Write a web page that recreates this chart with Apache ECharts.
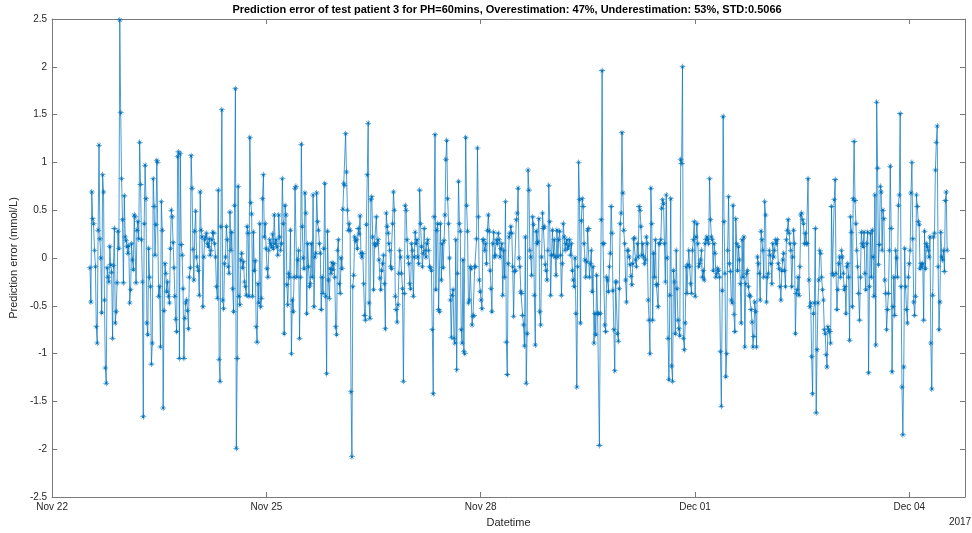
<!DOCTYPE html>
<html><head><meta charset="utf-8">
<script src="https://cdn.jsdelivr.net/npm/echarts@6/dist/echarts.min.js"></script>
<style>html,body{margin:0;padding:0;background:#fff}#c{width:972px;height:533px}</style>
</head><body><div id="c"></div>
<script>
// Prediction error values (mmol/L), in time order
const seg1=[-0.1,-0.46,0.69,0.41,0.36,0.08,-0.09,-0.72,-0.89,0.29,
1.18,0.2,0.0,-0.57,0.87,0.69,-0.44,-1.15,-1.31,-0.1,
-0.2,-0.25,0.12,-0.07,-0.15,-0.84,-0.08,0.31,-0.68,-0.56,
-0.26,0.28,0.1,2.49,1.52,0.83,0.4,-0.26,0.65,0.22,
0.18,0.12,0.05,0.13,-0.47,-0.33,0.15,-0.02,-0.12,0.45,
0.43,-0.26,0.29,0.38,0.2,1.21,0.77,0.19,-0.25,-1.66,
0.36,0.97,0.62,-0.68,-0.8,0.1,-0.2,-0.3,-1.11,-0.89,
0.83,0.54,0.03,0.35,1.02,1.0,-0.4,-0.3,-0.93,0.59,
0.29,-1.57,-0.55,-0.06,-0.16,-0.35,-0.25,-0.4,-0.47,0.1,
0.5,0.43,0.16,-0.1,-0.4,-0.64,-0.77,1.06,1.11,-1.05];
const seg2=[1.09,0.14,0.03,-0.32,-1.05,-0.63,-0.47,-0.44,-0.55,-0.74,
-0.2,-0.1,1.07,0.73,0.09,-0.23,0.28,0.49,0.01,-0.09,
-0.13,-0.39,0.69,0.29,0.22,-0.51,0.01,0.19,0.22,0.26,
0.15,0.12,0.2,0.03,0.08,0.19,0.27,0.26,0.15,0.01,
-0.3,-0.42,0.71,-1.06,-1.29,0.33,1.55,-0.44,-0.53,-0.06,
0.01,0.33,0.19,-0.09,-0.16,0.48,0.08,0.27,-0.32,-0.56,
0.55,1.77,-1.99,-1.05,0.75,-0.4,-0.49,-0.02,0.05,-0.1,
-0.04,-0.25,-0.3,-0.39,0.33,0.26,-0.4,1.26,0.58,0.46,
-0.4,0.27,-0.13,-0.03,-0.72,-0.88,-0.27,-0.47,0.36,-0.51,
-0.42,0.62,0.87,0.22,0.36,0.1,-0.11,-0.2,0.08,0.19,
0.15,0.12,0.25,0.1,0.45];
const seg3=[0.15,0.19,0.12,0.03,0.45,0.22,0.08,0.15,0.83,0.36,
-0.79,0.55,0.45,-0.28,-0.49,-0.16,-0.2,0.29,-1.0,-0.44,
-0.56,-0.2,0.73,0.75,-0.2,-0.02,0.08,-0.84,-0.2,1.19,
0.33,0.0,-0.11,0.68,0.47,-0.58,0.15,-0.09,-0.3,-0.27,
0.15,-0.2,0.66,-0.51,0.01,0.05,0.68,0.38,0.29,0.15,
0.05,-0.54,-0.2,-0.37,0.1,0.78,-0.4,-1.21,0.28,-0.23,
-0.42,-0.11,-0.16,-0.05,-0.12,-0.06,-0.2,-0.72,-0.8,0.08,
0.19,-0.27,-0.37,0.0,-0.11,0.51,0.78,0.76,1.3,0.9,
0.5,0.29,0.36,0.29,-1.4,-2.08,-0.3,-0.18,0.22,0.18,
0.19,0.1,0.31,0.25,0.44,0.05,0.01,0.05,-0.27,-0.6,
-0.65,0.35,0.87,1.41,-0.47];
const seg4=[-0.63,0.61,0.64,0.22,-0.33,0.15,0.13,0.43,0.15,0.19,
-0.02,-0.21,-0.33,-0.13,-0.06,0.03,-0.27,-0.74,0.47,0.33,
0.26,0.15,0.08,-0.09,-0.11,0.36,0.69,0.5,-0.4,-0.54,
-0.67,-0.49,-0.16,0.08,0.01,-0.16,-0.32,-1.29,-0.37,0.55,
0.5,0.19,0.01,-0.06,-0.27,-0.32,0.15,0.08,-0.4,0.01,
0.27,0.15,0.19,0.01,-0.06,0.71,0.36,0.12,-0.09,0.05,
0.31,0.08,0.01,0.15,0.19,0.08,-0.09,-0.1,-0.13,-0.75,
-1.42,0.43,1.29,-0.33,0.29,0.36,-0.54,-0.56,0.36,-0.23,
0.15,-0.1,0.18,0.45,1.03,1.23,0.62,0.36,0.0,-0.44,
-0.83,-0.39,-0.33,-0.84,-0.89,0.19,-1.17,-0.16,0.8,0.36,
0.28,-0.75,-0.89,-0.02];
const seg5=[-0.98,-1.0,1.26,0.55,0.28,-0.47,-0.44,-0.09,-0.11,-0.7,
-0.61,-0.6,-0.09,-0.09,0.2,1.15,0.43,-0.23,-0.35,-0.44,
-0.53,0.19,0.19,0.08,0.15,-0.06,0.29,0.45,0.28,-0.13,
-0.32,-0.56,0.15,0.27,0.01,0.03,0.19,0.15,0.26,0.19,
0.01,0.1,0.15,-0.39,0.08,-0.2,0.59,-0.88,-1.22,-0.06,
0.22,0.26,0.33,0.26,-0.09,-0.61,-0.14,-0.13,0.4,0.47,
0.73,0.0,-0.09,-0.35,-0.37,-0.6,-0.7,-0.92,0.22,-1.31,
-0.79,0.92,0.71,0.08,0.01,-0.18,0.43,0.35,-0.39,-0.91,
0.28,0.15,0.17,0.41,-0.56,-0.7,0.01,0.47,0.31,0.33,
-0.07,-0.13,-0.23,0.08,0.76,0.38,-0.39,0.03,0.29,0.03,
0.19,0.01,-0.18,0.29,0.01];
const seg6=[0.19,0.28,0.03,-0.39,-0.06,0.36,0.22,0.08,0.15,0.19,
0.1,0.13,0.19,0.03,0.15,-0.13,-0.23,-0.3,0.0,-0.58,
-1.35,-0.09,1.0,0.61,-0.68,0.39,0.62,0.54,0.15,-0.02,
-0.2,-0.04,0.29,0.31,-0.2,-0.06,0.08,-0.35,-0.09,-0.89,
-0.58,-0.8,-0.18,-0.58,-0.58,-1.96,-0.58,0.4,1.96,0.15,
0.15,-0.7,-0.77,-0.2,-0.23,-0.35,-0.09,0.05,0.54,0.26,
-0.34,-0.75,-1.18,-0.25,-0.25,-0.79,-0.87,-0.32,0.36,0.47,
1.31,0.68,0.29,0.15,-0.23,-0.46,0.08,0.08,0.01,-0.07,
-0.19,-0.28,-0.06,0.2,0.21,-0.02,-0.09,0.15,0.01,0.54,
0.5,0.33,0.03,0.15,0.01,-0.06,-0.02,0.22,0.15,-0.44,
-0.65,-1.0,0.73,0.36];
const seg7=[-0.65,0.05,-0.2,0.19,-0.28,-0.28,-0.51,0.15,0.15,0.19,
0.52,0.61,0.57,0.15,-0.25,0.66,0.0,-0.84,-1.27,-0.39,
0.62,-1.13,-1.29,-0.13,-0.25,-0.79,0.08,-0.32,-0.65,-0.74,
-0.81,1.03,0.99,2.0,-0.84,-0.96,-0.68,-0.09,-0.37,-0.07,
0.08,-0.09,-0.27,-0.37,0.08,0.19,0.38,-0.4,0.22,0.36,
0.15,-0.09,-0.06,-0.02,0.08,-0.2,-0.13,-0.23,0.15,0.19,
0.22,0.19,0.15,0.83,0.4,0.22,0.19,-0.13,0.15,0.05,
-0.2,-0.16,-0.11,-0.13,-0.2,-0.98,-1.55,-0.34,1.48,0.38,
-0.16,-1.24,-1.0,0.08,0.64,-0.06,-0.14,-0.44,-0.47,0.55,
-0.59,-0.77,0.41,0.15,-0.13,0.12,-0.02,-0.27,-0.68,0.19,
-0.2,0.22,-0.93,-0.27,-0.16];
const seg8=[-0.13,-0.3,-0.39,-0.4,-0.54,-0.67,-0.93,-0.82,-0.46,-0.56,
-0.93,0.01,-0.06,-0.16,-0.44,0.28,0.19,0.08,-0.2,0.59,
0.45,-0.46,-0.2,-0.16,0.08,0.03,-0.06,-0.27,0.15,0.01,
0.08,0.19,0.15,0.19,-0.06,-0.11,-0.3,-0.44,-0.13,-0.02,
0.05,-0.13,-0.3,0.19,0.29,0.4,0.26,0.15,0.08,-0.3,
0.01,0.29,0.15,-0.79,-0.37,-0.33,-0.2,-0.39,-0.09,0.45,
0.47,0.4,0.36,0.15,0.26,0.15,0.15,0.83,-0.23,-0.51,
-0.47,-1.03,-1.42,-0.58,-0.47,0.31,-1.62,-0.96,-0.47,-0.23,
0.08,0.05,-0.2,-0.33,-0.44,-0.75,-0.79,-1.01,-1.14,-0.72,
-0.75,-0.77,-0.89,0.54,-0.16,-0.18,0.61,0.82,-0.16,-0.54,
-0.33,-0.06,0.01,-0.2];
const seg9=[0.08,0.01,-0.16,-0.33,-0.3,-0.58,-0.09,-0.06,-0.2,
-0.86,0.43,0.27,-0.51,0.62,1.22,0.6,0.36,0.08,-0.09,
-0.37,-0.65,-0.2,0.27,0.15,0.12,0.27,-0.16,-0.33,0.15,
0.27,-1.2,-0.3,0.26,-0.2,0.29,0.01,-0.4,0.66,-0.91,
1.63,0.94,-0.07,0.14,0.75,0.69,0.08,0.5,0.41,-0.23,
-0.37,-0.75,-0.54,-0.37,0.08,0.96,0.31,-1.19,-0.51,-0.2,
-0.6,0.08,0.0,-0.2,0.55,0.66,1.51,-0.3,-1.35,-1.85,
-1.14,0.1,-0.3,-0.54,-0.68,-0.2,-0.06,0.08,0.68,1.0,
0.2,-0.46,-0.6,-0.4,0.66,0.54,0.38,0.35,-0.11,-0.06,
-0.09,-0.06,-0.65,0.28,-0.11,0.15,0.12,0.08,0.01,0.22,
-0.89,-1.37,-0.39,0.22,0.26,0.92,1.21,1.38,-0.09,-0.75,
-0.46,0.27,0.01,-0.02,0.08,-0.14,0.6,0.69,0.08];

// Time: days since Nov 22 2017 00:00; samples are evenly spaced
const firstSampleDay = 0.53;
const lastSampleDay = 12.53;
const xTickLabels = ['Nov 22','Nov 25','Nov 28','Dec 01','Dec 04'];
const xTickStepDays = 3;
const xMaxDay = 12.78;
const yearLabel = '2017';
const titleText = 'Prediction error of test patient 3 for PH=60mins, Overestimation: 47%, Underestimation: 53%, STD:0.5066';

const values = [].concat(seg1,seg2,seg3,seg4,seg5,seg6,seg7,seg8,seg9);
const step = (lastSampleDay-firstSampleDay)/(values.length-1);
const data = values.map((v,i)=>[firstSampleDay+i*step, v]);

const FONT = '"Liberation Sans", Arial, Helvetica, sans-serif';
const AX = '#7a7a7a';
const TXT = '#262626';
const star = 'path://M4.55,0L5.45,0L5.45,10L4.55,10Z M0,4.55L10,4.55L10,5.45L0,5.45Z M1.8,2.45L2.45,1.8L8.2,7.55L7.55,8.2Z M7.55,1.8L8.2,2.45L2.45,8.2L1.8,7.55Z';

function xFmt(v){ const k=v/xTickStepDays; if(Math.abs(k-Math.round(k))>1e-6) return ''; return xTickLabels[Math.round(k)]||''; }

const baseX = {type:'value', min:0, max:xMaxDay, interval:xTickStepDays,
  axisLine:{show:true, onZero:false, lineStyle:{color:AX, width:1}},
  axisTick:{show:true, inside:true, length:5, lineStyle:{color:AX}},
  splitLine:{show:false}};
const baseY = {type:'value', min:-2.5, max:2.5, interval:0.5,
  axisLine:{show:true, onZero:false, lineStyle:{color:AX, width:1}},
  axisTick:{show:true, inside:true, length:5, lineStyle:{color:AX}},
  splitLine:{show:false}};

const chart = echarts.init(document.getElementById('c'), null, {renderer:'canvas'});
chart.setOption({
  animation:false,
  backgroundColor:'#fff',
  grid:{left:49, right:7, top:19, bottom:36, containLabel:false},
  xAxis:[
    Object.assign({}, baseX, {position:'bottom',
      axisLabel:{formatter:xFmt, color:TXT, fontSize:10, fontFamily:FONT, margin:5, showMaxLabel:false, hideOverlap:false},
      name:'Datetime', nameLocation:'middle', nameGap:20, nameTextStyle:{color:TXT, fontSize:11, fontFamily:FONT}}),
    Object.assign({}, baseX, {position:'top', axisLabel:{show:false}})
  ],
  yAxis:[
    Object.assign({}, baseY, {position:'left',
      axisLabel:{color:TXT, fontSize:10, fontFamily:FONT, margin:5},
      name:'Prediction error (mmol/L)', nameLocation:'middle', nameGap:30, nameTextStyle:{color:TXT, fontSize:11, fontFamily:FONT}}),
    Object.assign({}, baseY, {position:'right', axisLabel:{show:false}})
  ],
  graphic:[
    {type:'text', x:507, y:10, style:{text:titleText, fill:'#000', font:'bold 11px '+FONT, align:'center', verticalAlign:'middle'}},
    {type:'text', x:960, y:522, style:{text:yearLabel, fill:TXT, font:'10px '+FONT, align:'center', verticalAlign:'middle'}}
  ],
  series:[{
    type:'line', xAxisIndex:0, yAxisIndex:0, data:data,
    symbol:star, symbolSize:6, showSymbol:true, showAllSymbol:true,
    lineStyle:{color:'#0072BD', width:0.7},
    itemStyle:{color:'#0072BD'},
    emphasis:{disabled:true}, silent:true
  }]
});
</script>
</body></html>
